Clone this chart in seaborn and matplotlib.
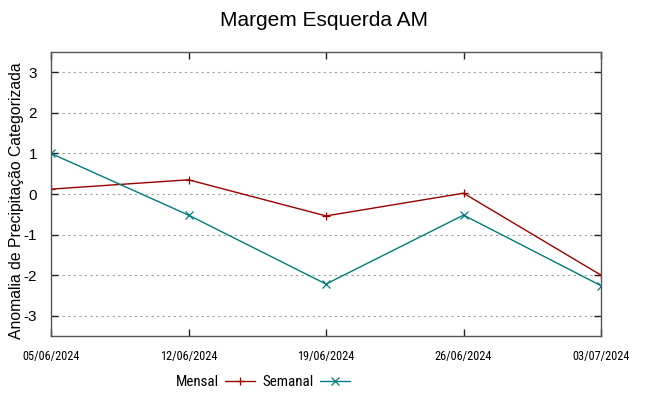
import matplotlib
matplotlib.use("Agg")
import matplotlib.pyplot as plt
import matplotlib.dates as mdates
from matplotlib import font_manager as fm
import seaborn as sns
import pandas as pd

dates = ["2024-06-05", "2024-06-12", "2024-06-19", "2024-06-26", "2024-07-03"]
mensal = [0.12, 0.35, -0.54, 0.02, -2.0]
semanal = [1.0, -0.52, -2.22, -0.52, -2.26]
title = "Margem Esquerda AM"
ylabel = "Anomalia de Precipitação Categorizada"
yticks = [-3, -2, -1, 0, 1, 2, 3]

available = {f.name for f in fm.fontManager.ttflist}
narrow_pref = ['Liberation Sans Narrow', 'Arial Narrow', 'Roboto Condensed', 'Archivo Narrow',
               'PT Sans Narrow', 'Fira Sans Condensed', 'IBM Plex Sans Condensed',
               'Encode Sans Condensed', 'Asap Condensed', 'Open Sans Condensed']
narrow = next((n for n in narrow_pref if n in available), 'Liberation Sans')

sns.set_style("white")
plt.rcParams['font.family'] = ['Liberation Sans', 'DejaVu Sans']
plt.rcParams['text.color'] = 'black'
plt.rcParams['axes.labelcolor'] = 'black'
plt.rcParams['xtick.color'] = 'black'
plt.rcParams['ytick.color'] = 'black'

df = pd.DataFrame({
    "data": pd.to_datetime(dates * 2),
    "valor": mensal + semanal,
    "serie": ["Mensal"] * len(dates) + ["Semanal"] * len(dates),
})

fig = plt.figure(figsize=(6.49, 3.96), dpi=100)
renderer = fig.canvas.get_renderer()


def fit_size(text, family, target_px, base=10.0, cap=None):
    t = fig.text(0, 0, text, fontsize=base, family=family)
    w = t.get_window_extent(renderer).width
    t.remove()
    s = base * target_px / w
    if cap is not None:
        s = min(s, cap)
    return s


xt_size = fit_size("05/06/2024", narrow, 57, cap=10)
lg_size = fit_size("Mensal", narrow, 43, cap=11)

ax = fig.add_axes([51/649, 1 - 336/396, 550/649, 284/396])

palette = {"Mensal": "#990000", "Semanal": "#007b7b"}
sns.lineplot(data=df, x="data", y="valor", hue="serie", style="serie",
             markers={"Mensal": "+", "Semanal": "x"}, dashes=False,
             palette=palette, linewidth=1.0, markersize=6,
             markeredgewidth=0.9, ax=ax, legend=True)

for ln in ax.get_lines():
    ln.set_markeredgecolor(ln.get_color())

xd = pd.to_datetime(dates)
ax.set_xlim(xd[0], xd[-1])
ax.set_ylim(-3.5, 3.5)
ax.set_xticks(xd)
ax.xaxis.set_major_formatter(mdates.DateFormatter("%d/%m/%Y"))
ax.set_yticks(yticks)
ax.set_yticklabels([str(v) for v in yticks], fontsize=11, family='Liberation Sans')
for lbl in ax.get_xticklabels():
    lbl.set_fontsize(xt_size)
    lbl.set_family(narrow)

ax.yaxis.grid(True, color="#a0a0a0", linestyle=(0, (2, 3)), linewidth=0.8)
ax.xaxis.grid(False)
ax.tick_params(axis='both', direction='in', length=5, width=1, color='#222222',
               top=True, right=True, bottom=True, left=True)
ax.tick_params(axis='y', pad=10)
ax.tick_params(axis='x', pad=10)
for s in ax.spines.values():
    s.set_color('#555555')
    s.set_linewidth(1.0)

ax.set_xlabel("")
ax.set_ylabel(ylabel, fontsize=11.3, family='Liberation Sans')
ax.yaxis.set_label_coords((17 - 51) / 550, (336 - 201) / 284)
ax.yaxis.label.set_va('center')
fig.suptitle(title, fontsize=15, family='Liberation Sans', y=1 - 20/396, va='center')

handles, labels = ax.get_legend_handles_labels()
ax.get_legend().remove()
for h in handles:
    h.set_markeredgecolor(h.get_color())
fig.legend(handles, labels, loc='center', bbox_to_anchor=(263/649, 1 - 382/396),
           ncol=2, frameon=False, markerfirst=False,
           prop={'family': narrow, 'size': lg_size},
           handlelength=2.0, handletextpad=0.4, columnspacing=0.5)

fig.savefig("out.png", dpi=100)
